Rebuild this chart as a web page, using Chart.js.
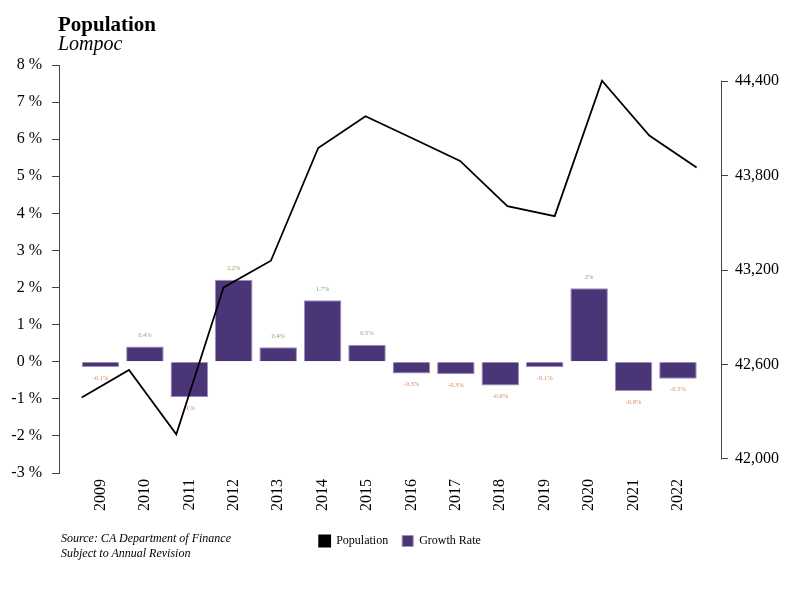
<!DOCTYPE html>
<html>
<head>
<meta charset="utf-8">
<script src="https://cdn.jsdelivr.net/npm/chart.js@4"></script>
<style>
  body { margin: 0; background: #fff; }
  #wrap { position: relative; width: 800px; height: 600px; font-family: "Liberation Serif", "Times New Roman", serif; }
  #chart { position: absolute; left: 0; top: 0; }
  .t { position: absolute; white-space: nowrap; color: #000; }
</style>
</head>
<body>
<div id="wrap">
  <canvas id="chart" width="800" height="600"></canvas>
  <div class="t" style="left:58px; top:14px; font-size:21px; line-height:21px; font-weight:bold;">Population</div>
  <div class="t" style="left:58px; top:33px; font-size:20px; line-height:20px; font-style:italic;">Lompoc</div>
  <div class="t" style="left:61px; top:531px; font-size:12px; line-height:15px; font-style:italic;">Source: CA Department of Finance<br>Subject to Annual Revision</div>
</div>
<script>
const years = ['2009', '2010', '2011', '2012', '2013', '2014', '2015', '2016', '2017', '2018', '2019', '2020', '2021', '2022']
const population = [42390, 42565, 42157, 43090, 43259, 43975, 44177, 44035, 43893, 43606, 43542, 44402, 44054, 43851]
const growthRate = [-0.14, 0.41, -0.96, 2.21, 0.39, 1.66, 0.46, -0.32, -0.34, -0.64, -0.15, 1.98, -0.79, -0.46]
const popTicks = [42000, 42600, 43200, 43800, 44400]

const axisColor = '#444'
const barColor = '#4a3577'
const posColor = '#8ea070'
const negColor = '#e0864e'
const serif = 'Liberation Serif'

// value labels above / below each bar
const barLabels = {
    id: 'barLabels',
    afterDatasetDraw(chart, args) {
        if (args.index !== 1) return
        const ctx = chart.ctx
        ctx.save()
        ctx.font = '6.5px "Liberation Serif"'
        ctx.textAlign = 'center'
        ctx.textBaseline = 'middle'
        args.meta.data.forEach((bar, i) => {
            const v = growthRate[i]
            ctx.fillStyle = v >= 0 ? posColor : negColor
            ctx.fillText(Math.round(v * 10) / 10 + '%', bar.x, v >= 0 ? bar.y - 11 : bar.y + 11)
        })
        ctx.restore()
    }
}

// right axis line only spans the tick range
const rightAxisLine = {
    id: 'rightAxisLine',
    afterDraw(chart) {
        const s = chart.scales.y2
        const ctx = chart.ctx
        ctx.save()
        ctx.strokeStyle = axisColor
        ctx.lineWidth = 1
        ctx.beginPath()
        ctx.moveTo(Math.round(s.left) + 0.5, s.getPixelForValue(popTicks[0]) + 0.5)
        ctx.lineTo(Math.round(s.left) + 0.5, s.getPixelForValue(popTicks[popTicks.length - 1]) - 0.5)
        ctx.stroke()
        ctx.restore()
    }
}

const tickFont = { family: serif, size: 16 }

new Chart(document.getElementById('chart'), {
    data: {
        datasets: [{
            type: 'line',
            label: 'Population',
            data: population.map((v, i) => ({ x: i, y: v })),
            xAxisID: 'xl',
            yAxisID: 'y2',
            borderColor: '#000',
            backgroundColor: '#000',
            borderWidth: 1.8,
            pointRadius: 0,
            tension: 0,
            order: 0
        }, {
            type: 'bar',
            label: 'Growth Rate',
            data: growthRate.map((v, i) => ({ x: i, y: v })),
            xAxisID: 'xb',
            yAxisID: 'y',
            backgroundColor: barColor,
            borderColor: '#9b8fbf',
            borderWidth: 1,
            grouped: false,
            barPercentage: 0.845,
            categoryPercentage: 1,
            order: 1
        }]
    },
    options: {
        responsive: false,
        animation: false,
        layout: { padding: { top: 65, left: 0, right: 0, bottom: 43 } },
        plugins: {
            tooltip: { enabled: false },
            legend: {
                position: 'bottom',
                labels: {
                    boxWidth: 11,
                    boxHeight: 11,
                    padding: 14,
                    color: '#000',
                    font: { family: serif, size: 12 }
                }
            }
        },
        scales: {
            xb: {
                type: 'linear',
                position: 'bottom',
                offset: false,
                min: -0.934,
                max: 13.969,
                afterBuildTicks: (s) => { s.ticks = years.map((_, i) => ({ value: i })) },
                afterFit: (s) => { s.height = 48 },
                grid: { display: false, drawTicks: false, offset: false },
                border: { display: false },
                ticks: {
                    autoSkip: false,
                    minRotation: 90,
                    maxRotation: 90,
                    padding: 6,
                    color: '#000',
                    font: tickFont,
                    callback: (v) => years[v]
                }
            },
            xl: { type: 'linear', display: false, offset: false, min: -0.48, max: 13.516 },
            y: {
                position: 'left',
                min: -3,
                max: 8,
                afterFit: (s) => { s.width = 59 },
                grid: { drawOnChartArea: false, tickLength: 7, color: axisColor },
                border: { color: axisColor },
                ticks: { stepSize: 1, padding: 10, color: '#000', font: tickFont, callback: (v) => v + ' %' }
            },
            y2: {
                position: 'right',
                min: 41911,
                max: 44502,
                afterBuildTicks: (s) => { s.ticks = popTicks.map((v) => ({ value: v })) },
                afterFit: (s) => { s.width = 79 },
                grid: { drawOnChartArea: false, tickLength: 7, color: axisColor },
                border: { display: false },
                ticks: { padding: 7, color: '#000', font: tickFont, callback: (v) => v.toLocaleString('en-US') }
            }
        }
    },
    plugins: [barLabels, rightAxisLine]
})
</script>
</body>
</html>
